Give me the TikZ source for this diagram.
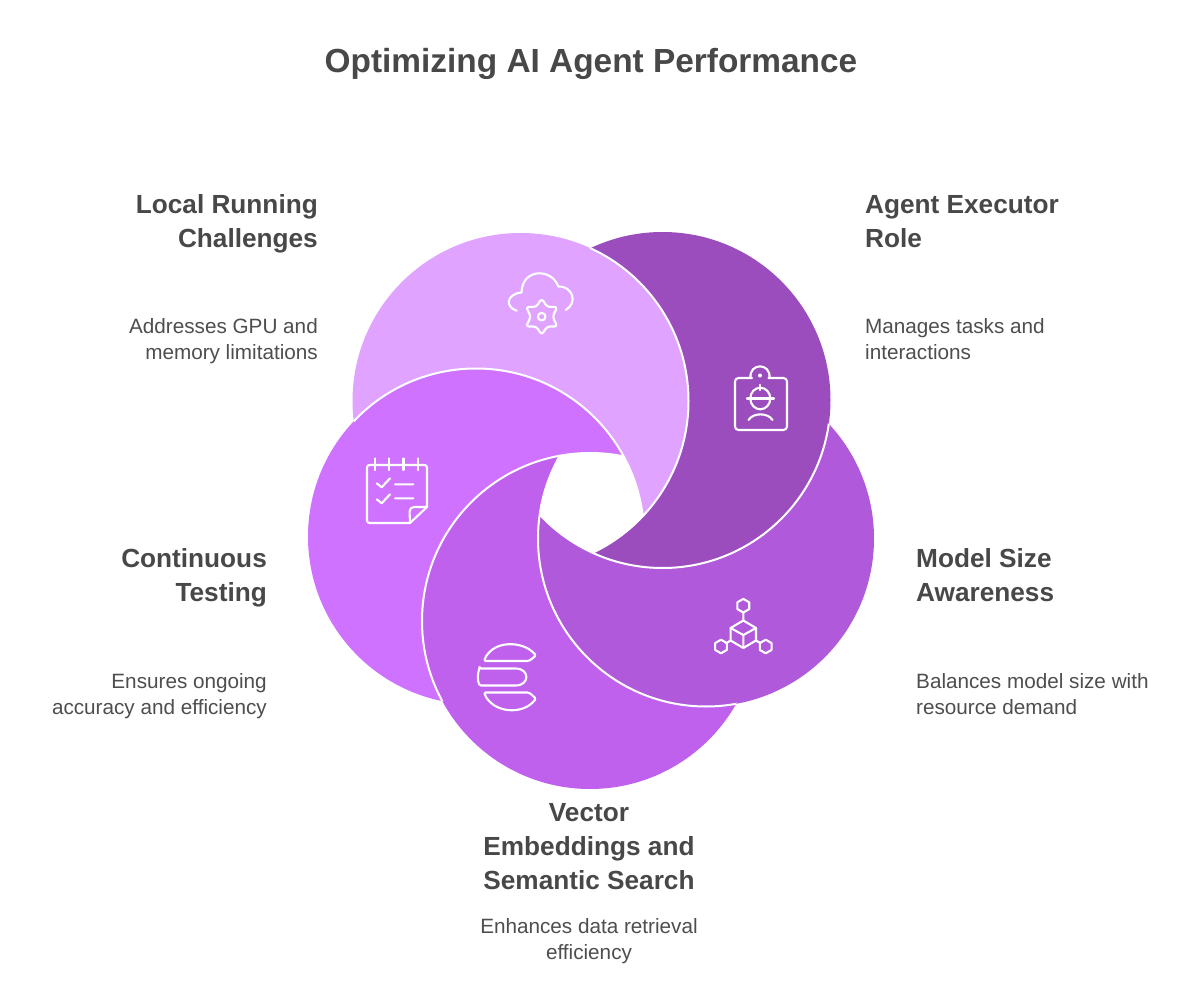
\documentclass[tikz,border=0pt]{standalone}
\usepackage{fontspec}
\setmainfont{Liberation Sans}
\definecolor{cLight}{RGB}{224,163,255}
\definecolor{cDark}{RGB}{155,77,190}
\definecolor{cModel}{RGB}{176,89,218}
\definecolor{cVector}{RGB}{192,97,238}
\definecolor{cCont}{RGB}{207,114,255}
\definecolor{ink}{RGB}{72,72,72}
\definecolor{inkb}{RGB}{78,78,78}
\tikzset{
  seam/.style={draw=white,line width=2pt},
  ico/.style={draw=white,line width=2.1pt,line cap=round,line join=round},
  titletext/.style={font=\fontsize{33.4}{40}\selectfont\bfseries,text=ink,inner sep=0pt},
  headtext/.style={font=\fontsize{26.2}{34}\selectfont\bfseries,text=ink,inner sep=0pt},
  bodytext/.style={font=\fontsize{20.7}{26}\selectfont,text=inkb,inner sep=0pt},
}
\begin{document}
\begin{tikzpicture}[x=1pt,y=-1pt]
\useasboundingbox (0,0) rectangle (1200,1000);
\fill[white] (0,0) rectangle (1200,1000);
\def\R{168pt}
\coordinate (cL) at (520.5,401);
\coordinate (cD) at (662.5,400);
\coordinate (cM) at (706,538.5);
\coordinate (cV) at (590,621);
\coordinate (cC) at (476,536.5);
% petals: each circle minus the next one
\begin{scope}[even odd rule]\clip (0,0) rectangle (1200,1000) (cC) circle[radius=\R];
\fill[cLight] (cL) circle[radius=\R];\end{scope}
\begin{scope}[even odd rule]\clip (0,0) rectangle (1200,1000) (cL) circle[radius=\R];
\fill[cDark] (cD) circle[radius=\R];\end{scope}
\begin{scope}[even odd rule]\clip (0,0) rectangle (1200,1000) (cD) circle[radius=\R];
\fill[cModel] (cM) circle[radius=\R];\end{scope}
\begin{scope}[even odd rule]\clip (0,0) rectangle (1200,1000) (cM) circle[radius=\R];
\fill[cVector] (cV) circle[radius=\R];\end{scope}
\begin{scope}[even odd rule]\clip (0,0) rectangle (1200,1000) (cV) circle[radius=\R];
\fill[cCont] (cC) circle[radius=\R];\end{scope}
% white seams
\begin{scope}\clip (cL) circle[radius=\R]; \draw[seam] (cC) circle[radius=\R];\end{scope}
\begin{scope}\clip (cD) circle[radius=\R]; \draw[seam] (cL) circle[radius=\R];\end{scope}
\begin{scope}\clip (cM) circle[radius=\R]; \draw[seam] (cD) circle[radius=\R];\end{scope}
\begin{scope}\clip (cV) circle[radius=\R]; \draw[seam] (cM) circle[radius=\R];\end{scope}
\begin{scope}\clip (cC) circle[radius=\R]; \draw[seam] (cV) circle[radius=\R];\end{scope}
% cloud + gear icon
\draw[ico] (516.7,310.7) .. controls (505,307) and (506,294) .. (521.5,292.5)
  .. controls (522,268) and (552,268) .. (558.3,286.5)
  .. controls (573,286) and (578,303) .. (565.7,310);
\draw[ico,rounded corners=3pt] (541.7,298.5) -- ++(5.5,8.5) -- ++(10.2,-0.2) -- ++(-4.8,9.9) -- ++(4.8,9.9) -- ++(-10.2,-0.2) -- ++(-5.5,8.5) -- ++(-5.5,-8.5) -- ++(-10.2,0.2) -- ++(4.8,-9.9) -- ++(-4.8,-9.9) -- ++(10.2,0.2) -- cycle;
\draw[ico] (541.7,316.7) circle[radius=3.8pt];
% badge icon
\draw[ico,rounded corners=3.5pt] (752,378) -- (735,378) -- (735,430) -- (787,430) -- (787,378) -- (768.5,378);
\draw[ico] (750.5,378) .. controls (749,362.5) and (771,362.5) .. (769.5,378);
\draw[ico] (760,375.5) circle[radius=1.2pt];
\draw[ico] (760.3,398.5) ellipse[x radius=10pt,y radius=10.8pt];
\draw[ico] (747,398.5) -- (774,398.5);
\draw[ico] (760.3,385) -- (760.3,390);
\draw[ico] (748.5,420) .. controls (753,412.5) and (768,412.5) .. (772.5,420);
% cube icon
\draw[ico] (743.3,620.5) -- (756,628) -- (756,640.5) -- (743.3,648) -- (730.6,640.5) -- (730.6,628) -- cycle;
\draw[ico] (730.6,628) -- (743.3,635) -- (756,628) (743.3,635) -- (743.3,648);
\draw[ico] (743.3,613) -- (743.3,620.5) (730.6,640.5) -- (726,643.3) (756,640.5) -- (760.6,643.3);
\foreach \c in {(743.3,605.7),(721,646.5),(765.7,646.5)}{
  \draw[ico] \c ++(0,-6.8) -- ++(5.9,3.4) -- ++(0,6.8) -- ++(-5.9,3.4) -- ++(-5.9,-3.4) -- ++(0,-6.8) -- cycle;
}
% stack icon
\draw[ico,rounded corners=1.5pt] (484,661) .. controls (492,640) and (523,640) .. (536,655.5) -- (529,661) -- cycle;
\draw[ico,rounded corners=1.5pt] (479.5,668.5) -- (514,668.5) .. controls (530,668.5) and (530,685.5) .. (514,685.5) -- (479.5,685.5) .. controls (477.5,680) and (477.5,674) .. (479.5,668.5) -- cycle;
\draw[ico,rounded corners=1.5pt] (484,692.5) .. controls (492,713) and (523,716) .. (536,698.5) -- (529,692.5) -- cycle;
% checklist icon
\draw[ico,rounded corners=2.5pt] (380,465) -- (367,465) -- (367,523) -- (410,523);
\draw[ico] (410,523) -- (427,507);
\draw[ico,rounded corners=2.5pt] (427,507) -- (427,465) -- (380,465);
\draw[ico] (375,458.5) -- (375,470) (389.3,458.5) -- (389.3,470) (403.5,458.5) -- (403.5,470) (418.3,458.5) -- (418.3,470);
\draw[ico] (376.7,483.3) -- (381.7,487.3) -- (390,478.3) (395,484.3) -- (413.3,484.3);
\draw[ico] (376.7,499.3) -- (381.7,503.3) -- (390,494.3) (395,498.3) -- (413.3,498.3);
\draw[ico,rounded corners=2pt] (427,507) -- (412,507) -- (409.5,509.5) -- (410,523);
% texts
\node[titletext] (title) at (591,63.5) {Optimizing AI Agent Performance};
\node[headtext,align=right,anchor=east] (h1) at (318,224) {Local Running\\Challenges};
\node[bodytext,align=right,anchor=east] (b1) at (318,341) {Addresses GPU and\\memory limitations};
\node[headtext,align=left,anchor=west] (h2) at (865,221.5) {Agent Executor\\Role};
\node[bodytext,align=left,anchor=west] (b2) at (865,339.5) {Manages tasks and\\interactions};
\node[headtext,align=left,anchor=west] (h3) at (916,575) {Model Size\\Awareness};
\node[bodytext,align=left,anchor=west] (b3) at (916,694) {Balances model size with\\resource demand};
\node[headtext,align=right,anchor=east] (h4) at (267,578) {Continuous\\Testing};
\node[bodytext,align=right,anchor=east] (b4) at (267,696.5) {Ensures ongoing\\accuracy and efficiency};
\node[headtext,align=center] (h5) at (589,847) {Vector\\Embeddings and\\Semantic Search};
\node[bodytext,align=center] (b5) at (589,941) {Enhances data retrieval\\efficiency};
\end{tikzpicture}
\end{document}
